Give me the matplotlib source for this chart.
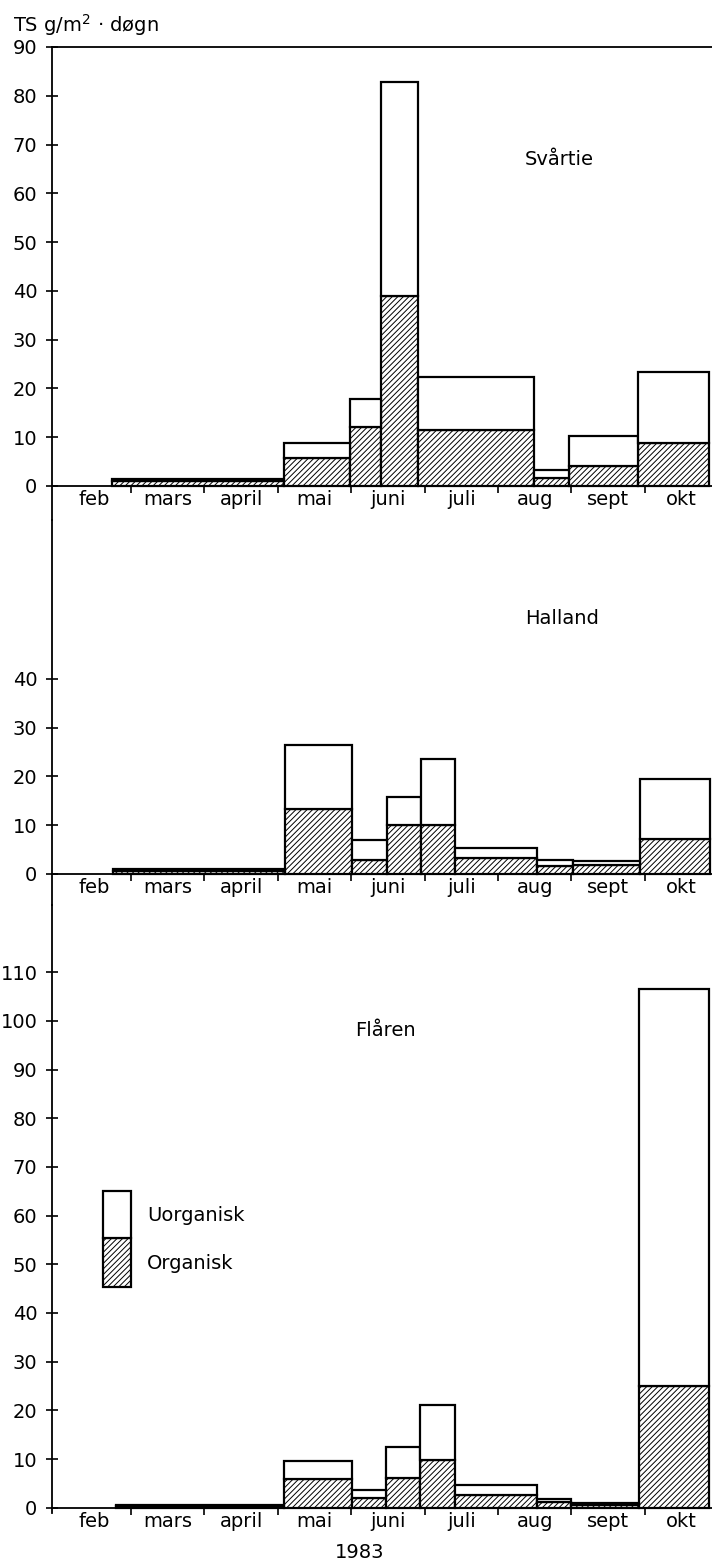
import matplotlib

matplotlib.use("Agg")
import matplotlib.pyplot as plt
import numpy as np

OUT_PATH = "out.png"

MONTHS = ["feb", "mars", "april", "mai", "juni", "juli", "aug", "sept", "okt"]

# sampling periods in month units (0 = 1. feb), organic part and total TS
SVARTIE_START = [0.74, 3.08, 3.98, 4.41, 4.91, 6.49, 6.97, 7.91]
SVARTIE_END = [3.08, 3.98, 4.41, 4.91, 6.49, 6.97, 7.91, 8.87]
SVARTIE_ORG = [1.0, 5.8, 12.0, 39.0, 11.5, 1.7, 4.1, 8.8]
SVARTIE_TOT = [1.5, 8.7, 17.9, 82.9, 22.3, 3.3, 10.3, 23.3]

HALLAND_START = [0.76, 3.10, 4.01, 4.49, 4.95, 5.42, 6.53, 7.02, 7.94]
HALLAND_END = [3.10, 4.01, 4.49, 4.95, 5.42, 6.53, 7.02, 7.94, 8.89]
HALLAND_ORG = [0.6, 13.4, 2.9, 10.0, 10.1, 3.2, 1.6, 1.9, 7.1]
HALLAND_TOT = [1.0, 26.5, 7.0, 15.8, 23.5, 5.3, 2.8, 2.6, 19.5]

FLAREN_START = [0.79, 3.08, 4.01, 4.47, 4.94, 5.41, 6.53, 6.99, 7.92]
FLAREN_END = [3.08, 4.01, 4.47, 4.94, 5.41, 6.53, 6.99, 7.92, 8.87]
FLAREN_ORG = [0.4, 5.8, 2.0, 6.2, 9.8, 2.6, 1.1, 0.6, 24.9]
FLAREN_TOT = [0.6, 9.6, 3.6, 12.5, 21.1, 4.7, 1.8, 0.9, 106.5]

SVARTIE_TICKS = list(range(0, 100, 10))
HALLAND_TICKS = list(range(0, 50, 10))
FLAREN_TICKS = list(range(0, 120, 10))

FONT = 14
LW = 1.6
HATCH = "//////"

plt.rcParams["font.family"] = ["DejaVu Sans"]
plt.rcParams["hatch.linewidth"] = 0.7
plt.rcParams["hatch.color"] = "black"

W, H = 712, 1568
X_LEFT, X_RIGHT = 52, 712
XLIM = (-0.076, 8.915)


def make_axes(fig, top_px, bottom_px, ylim):
    ax = fig.add_axes([X_LEFT / W, 1 - bottom_px / H, (X_RIGHT - X_LEFT) / W,
                       (bottom_px - top_px) / H])
    ax.set_xlim(*XLIM)
    ax.set_ylim(*ylim)
    ax.patch.set_alpha(0)
    return ax


def draw_panel(ax, start, end, org, tot, yticks, name, name_xy, top_line=False):
    start = np.array(start)
    width = np.array(end) - start
    org = np.array(org)
    inorg = np.array(tot) - org
    ax.bar(start, org, width=width, align="edge", color="white",
           edgecolor="black", linewidth=LW, hatch=HATCH, zorder=2)
    ax.bar(start, inorg, width=width, bottom=org, align="edge", color="white",
           edgecolor="black", linewidth=LW, zorder=2)

    ax.spines["right"].set_visible(False)
    ax.spines["top"].set_visible(top_line)
    ax.spines["bottom"].set_position(("data", 0))
    for side in ["left", "bottom", "top"]:
        ax.spines[side].set_linewidth(1.3)
    ax.spines["bottom"].set_zorder(3)

    ax.set_yticks(yticks)
    ax.set_yticklabels([str(v) for v in yticks], fontsize=FONT)
    ax.tick_params(axis="y", direction="inout", length=9, width=1.2, pad=6)

    ax.set_xticks(range(1, len(MONTHS)))
    ax.set_xticklabels([])
    ax.set_xticks(np.arange(len(MONTHS)) + 0.5, minor=True)
    ax.set_xticklabels(MONTHS, minor=True, fontsize=FONT)
    ax.tick_params(axis="x", which="major", direction="out", length=5, width=1.2)
    ax.tick_params(axis="x", which="minor", length=0, pad=3)

    ax.text(name_xy[0], name_xy[1], name, fontsize=FONT, ha="center", va="center")


if __name__ == "__main__":
    fig = plt.figure(figsize=(W / 100, H / 100), dpi=100)

    ax1 = make_axes(fig, 47, 520, (-7.0, 90))
    draw_panel(ax1, SVARTIE_START, SVARTIE_END, SVARTIE_ORG, SVARTIE_TOT,
               SVARTIE_TICKS, "Svårtie", (6.84, 67), top_line=True)

    ax2 = make_axes(fig, 520, 905, (-6.36, 72.6))
    draw_panel(ax2, HALLAND_START, HALLAND_END, HALLAND_ORG, HALLAND_TOT,
               HALLAND_TICKS, "Halland", (6.87, 52.3))

    ax3 = make_axes(fig, 905, 1513, (-1.09, 123.8))
    draw_panel(ax3, FLAREN_START, FLAREN_END, FLAREN_ORG, FLAREN_TOT,
               FLAREN_TICKS, "Flåren", (4.47, 98))

    # legend drawn as small stacked box inside the Flåren panel
    ax3.bar([0.62], [10], width=0.38, bottom=[45.3], align="edge", color="white",
            edgecolor="black", linewidth=LW, hatch=HATCH, zorder=2)
    ax3.bar([0.62], [9.7], width=0.38, bottom=[55.3], align="edge", color="white",
            edgecolor="black", linewidth=LW, zorder=2)
    ax3.text(1.22, 60, "Uorganisk", fontsize=FONT, va="center", ha="left")
    ax3.text(1.22, 50.2, "Organisk", fontsize=FONT, va="center", ha="left")

    fig.text(13 / W, 1 - 25 / H, "TS g/m$^{2}$ · døgn", fontsize=FONT,
             ha="left", va="center")
    fig.text(360 / W, 1 - 1553 / H, "1983", fontsize=FONT, ha="center", va="center")

    fig.savefig(OUT_PATH, dpi=100)
